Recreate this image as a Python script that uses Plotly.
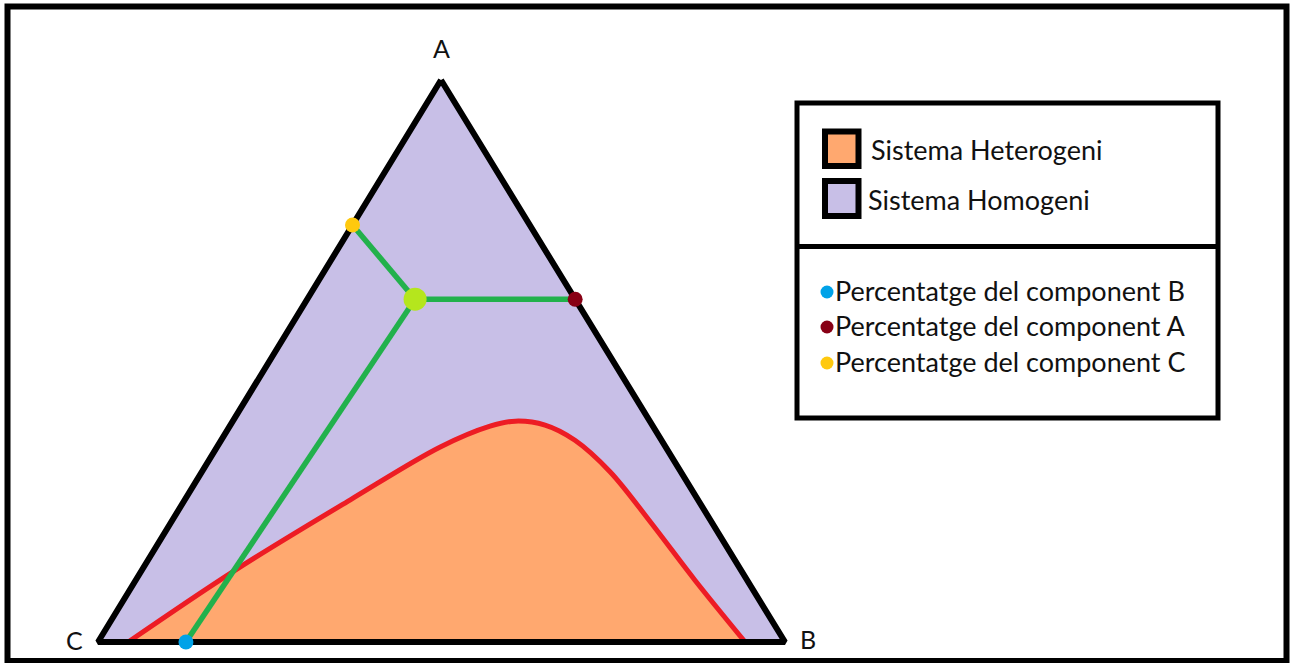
import plotly.graph_objects as go

# Corners of the composition triangle, in drawing units (y grows downward)
corner_names = ["A", "B", "C"]
corner_x = [441, 785, 98]
corner_y = [80, 642, 642]

# Binodal curve, as fractions of A and B (C = 1 - A - B)
binodal_a = [0.0, 0.128, 0.253, 0.347, 0.384, 0.393, 0.386, 0.359, 0.303,
             0.214, 0.110, 0.0]
binodal_b = [0.044, 0.136, 0.241, 0.325, 0.379, 0.411, 0.458, 0.515, 0.594,
             0.697, 0.814, 0.942]

# Mixture point and where its reading lines meet the triangle sides
mix_a, mix_b = 0.610, 0.157
read_names = ["Percentatge del component B", "Percentatge del component A",
              "Percentatge del component C"]
read_a = [0.0, 0.610, 0.742]
read_b = [0.128, 0.390, 0.0]
read_colors = ["#00A2E8", "#880015", "#FFC90E"]

region_names = ["Sistema Heterogeni", "Sistema Homogeni"]
region_colors = ["#FFA86F", "#C8BFE7"]

AX, BX, CX = corner_x
AY, BY, CY = corner_y


def to_xy(a, b):
    """Barycentric (A, B) fractions -> drawing coordinates."""
    c = 1 - a - b
    return a * AX + b * BX + c * CX, a * AY + b * BY + c * CY


def many(as_, bs):
    pts = [to_xy(a, b) for a, b in zip(as_, bs)]
    return [p[0] for p in pts], [p[1] for p in pts]


FONT = "Lato"
TXT = "#111"
fig = go.Figure()

# Homogeneous region: the whole triangle
tri_x = corner_x + [corner_x[0]]
tri_y = corner_y + [corner_y[0]]
fig.add_trace(go.Scatter(x=tri_x, y=tri_y, mode="lines", fill="toself",
                         fillcolor=region_colors[1], line=dict(width=0),
                         hoverinfo="skip"))

# Heterogeneous region: between the C-B side and the binodal curve
bx, by = many(binodal_a, binodal_b)
fig.add_trace(go.Scatter(x=[bx[0], bx[-1]], y=[by[0], by[-1]], mode="lines",
                         line=dict(width=0), hoverinfo="skip"))
fig.add_trace(go.Scatter(x=bx, y=by, mode="lines", fill="tonexty",
                         fillcolor=region_colors[0],
                         line=dict(color="#ED1C24", width=5, shape="spline",
                                   smoothing=1.0),
                         hoverinfo="skip"))

# Triangle outline
fig.add_trace(go.Scatter(x=tri_x, y=tri_y, mode="lines",
                         line=dict(color="black", width=6), hoverinfo="skip"))

# Reading lines from the mixture point
mx, my = to_xy(mix_a, mix_b)
rx, ry = many(read_a, read_b)
for x, y in zip(rx, ry):
    fig.add_trace(go.Scatter(x=[mx, x], y=[my, y], mode="lines",
                             line=dict(color="#22B14C", width=5.5),
                             hoverinfo="skip"))
fig.add_trace(go.Scatter(x=rx, y=ry, mode="markers",
                         marker=dict(color=read_colors, size=15),
                         hoverinfo="skip"))
fig.add_trace(go.Scatter(x=[mx], y=[my], mode="markers",
                         marker=dict(color="#B5E61D", size=23),
                         hoverinfo="skip"))

annotations = []
# Corner labels
label_pos = {"A": (441, 48), "B": (808, 639), "C": (74, 640)}
for name in corner_names:
    lx, ly = label_pos[name]
    annotations.append(dict(x=lx, y=ly, text=name, showarrow=False,
                            font=dict(family=FONT, size=25, color=TXT),
                            xanchor="center", yanchor="middle"))

shapes = [
    # outer frame
    dict(type="rect", x0=7.5, y0=6.5, x1=1286.5, y1=661,
         line=dict(color="black", width=6)),
    # legend box and divider
    dict(type="rect", x0=797, y0=103, x1=1218, y1=418,
         line=dict(color="black", width=5)),
    dict(type="line", x0=797, y0=246.5, x1=1218, y1=246.5,
         line=dict(color="black", width=5)),
]

# Region swatches
sw_y = [(131.5, 166), (181, 216)]
text_x = [869, 866]
for (y0, y1), col, name, tx in zip(sw_y, region_colors, region_names, text_x):
    shapes.append(dict(type="rect", x0=825, x1=858.5, y0=y0, y1=y1,
                       fillcolor=col, line=dict(color="black", width=6)))
    annotations.append(dict(x=tx, y=(y0 + y1) / 2 + 1, text=name, showarrow=False,
                            font=dict(family=FONT, size=27, color=TXT),
                            xanchor="left", yanchor="middle"))

# Reading legend
leg_y = [290, 325, 361]
fig.add_trace(go.Scatter(x=[827] * 3, y=[y + 2 for y in leg_y], mode="markers",
                         marker=dict(color=read_colors, size=13),
                         hoverinfo="skip"))
for y, name in zip(leg_y, read_names):
    annotations.append(dict(x=833, y=y, text=name, showarrow=False,
                            font=dict(family=FONT, size=27, color=TXT),
                            xanchor="left", yanchor="middle"))

fig.update_layout(
    width=1292, height=663, autosize=False,
    margin=dict(l=0, r=0, t=0, b=0),
    paper_bgcolor="white", plot_bgcolor="white",
    showlegend=False,
    xaxis=dict(range=[0, 1292], visible=False, fixedrange=True),
    yaxis=dict(range=[663, 0], visible=False, fixedrange=True),
    shapes=shapes, annotations=annotations,
)

fig.write_html("out.html")
